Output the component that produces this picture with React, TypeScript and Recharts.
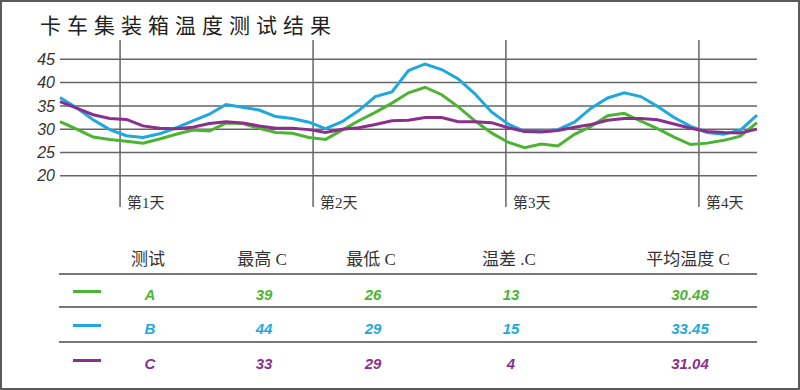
import { LineChart, Line, XAxis, YAxis, ReferenceLine } from 'recharts'

// 43 evenly spaced readings (roughly every 2 hours)
const seriesA = [
  31.6, 30.0, 28.3, 27.8, 27.4, 27.0, 27.9, 28.9, 29.8, 29.6, 31.3,
  31.2, 30.2, 29.3, 29.1, 28.2, 27.8, 29.8, 31.8, 33.6, 35.6, 37.8,
  39.0, 37.4, 34.8, 31.8, 29.2, 27.2, 26.0, 26.8, 26.4, 28.9, 30.6,
  32.9, 33.4, 31.7, 30.1, 28.3, 26.7, 27.0, 27.6, 28.5, 31.4,
]
const seriesB = [
  36.8, 34.6, 32.0, 29.9, 28.6, 28.2, 29.0, 30.3, 31.8, 33.2, 35.3,
  34.7, 34.1, 32.7, 32.3, 31.5, 30.1, 31.6, 34.0, 37.0, 38.0, 42.6,
  44.0, 42.8, 40.8, 37.6, 33.7, 31.1, 29.5, 29.6, 29.9, 31.5, 34.5,
  36.7, 37.8, 37.0, 34.9, 32.5, 30.6, 29.3, 28.9, 29.8, 33.0,
]
const seriesC = [
  35.9, 34.5, 33.1, 32.3, 32.1, 30.7, 30.2, 30.1, 30.4, 31.2, 31.6,
  31.3, 30.7, 30.2, 30.2, 29.9, 29.3, 30.0, 30.3, 31.0, 31.8, 31.9,
  32.5, 32.5, 31.6, 31.6, 31.4, 30.3, 29.5, 29.4, 29.7, 30.4, 31.0,
  31.9, 32.3, 32.3, 32.0, 31.1, 30.2, 29.5, 29.3, 29.2, 30.0,
]

const yTicks = [20, 25, 30, 35, 40, 45]
const dayMarks = [3.62, 15.25, 26.87, 38.5]
const dayLabels = ['第1天', '第2天', '第3天', '第4天']

const tests = ['A', 'B', 'C']
const maxTemps = ['39', '44', '33']
const minTemps = ['26', '29', '29']
const diffs = ['13', '15', '4']
const averages = ['30.48', '33.45', '31.04']
const headers = ['测试', '最高 C', '最低 C', '温差 .C', '平均温度 C']
const colors = ['#4db332', '#1fa8e0', '#8a2f8c']

const columnX = [148, 262, 371, 509, 688]
const rowY = [292, 326, 361]
const ruleY = [274, 307, 342]

const data = seriesA.map((a, i) => ({ i, A: a, B: seriesB[i], C: seriesC[i] }))

const cjk = '"Noto Sans CJK SC", sans-serif'
const serifCjk = '"Liberation Serif", "Noto Sans CJK SC", serif'

const DayLabel = ({ viewBox, value }: any) => (
  <text
    x={viewBox.x + 7}
    y={viewBox.y + viewBox.height - 4}
    fontSize={15}
    fontFamily={serifCjk}
    fill="#333"
    dominantBaseline="central"
  >
    {value}
  </text>
)

export default function App() {
  const cells: any[] = []
  const rows = [tests, maxTemps, minTemps, diffs, averages]
  rows.forEach((col, c) =>
    col.forEach((val, r) => {
      cells.push(
        <div
          key={`${c}-${r}`}
          style={{
            position: 'absolute',
            left: columnX[c],
            top: rowY[r],
            transform: 'translate(-50%, -50%)',
            color: colors[r],
            fontFamily: '"Liberation Sans", Arial, sans-serif',
            fontWeight: 'bold',
            fontStyle: 'italic',
            fontSize: 15,
            whiteSpace: 'nowrap',
          }}
        >
          {val}
        </div>
      )
    })
  )

  return (
    <div
      style={{
        position: 'absolute',
        left: 0,
        top: 0,
        width: 800,
        height: 390,
        boxSizing: 'border-box',
        border: '2px solid #5a5a5a',
        background: '#fff',
        overflow: 'hidden',
      }}
    >
      <div style={{ position: 'absolute', left: -2, top: -2 }}>
        <LineChart width={800} height={390} data={data} margin={{ top: 40, right: 43, bottom: 183, left: 0 }}>
          <XAxis type="number" dataKey="i" domain={[0, 42]} hide />
          <YAxis
            domain={[13.28, 49.15]}
            allowDataOverflow
            ticks={yTicks}
            width={60}
            axisLine={false}
            tickLine={false}
            tickSize={5}
            tickMargin={0}
            tick={{ fontSize: 16, fontStyle: 'italic', fill: '#333', fontFamily: '"Liberation Sans", Arial, sans-serif' }}
          />
          {yTicks.map((t) => (
            <ReferenceLine key={`h${t}`} y={t} stroke="#666" strokeWidth={1.5} />
          ))}
          {dayMarks.map((d, k) => (
            <ReferenceLine
              key={d}
              x={d}
              stroke="#666"
              strokeWidth={1.5}
              label={<DayLabel value={dayLabels[k]} />}
            />
          ))}
          <Line type="linear" dataKey="A" stroke={colors[0]} strokeWidth={3} dot={false} isAnimationActive={false} />
          <Line type="linear" dataKey="B" stroke={colors[1]} strokeWidth={3} dot={false} isAnimationActive={false} />
          <Line type="linear" dataKey="C" stroke={colors[2]} strokeWidth={3} dot={false} isAnimationActive={false} />
        </LineChart>
      </div>

      <div
        style={{
          position: 'absolute',
          left: 38,
          top: 10,
          fontFamily: cjk,
          fontSize: 21,
          lineHeight: '24px',
          letterSpacing: 6,
          color: '#222',
          whiteSpace: 'nowrap',
        }}
      >
        卡车集装箱温度测试结果
      </div>

      {headers.map((h, c) => (
        <div
          key={h}
          style={{
            position: 'absolute',
            left: columnX[c] - 2,
            top: 255,
            transform: 'translate(-50%, -50%)',
            fontFamily: serifCjk,
            fontSize: 17,
            color: '#333',
            whiteSpace: 'nowrap',
          }}
        >
          {h}
        </div>
      ))}

      {ruleY.map((y) => (
        <div
          key={y}
          style={{ position: 'absolute', left: 57, top: y - 3, width: 698, height: 2, background: '#777' }}
        />
      ))}

      {colors.map((c, r) => (
        <div
          key={c}
          style={{ position: 'absolute', left: 71, top: rowY[r] - 4, width: 28, height: 3, background: c }}
        />
      ))}

      {cells}
    </div>
  )
}
